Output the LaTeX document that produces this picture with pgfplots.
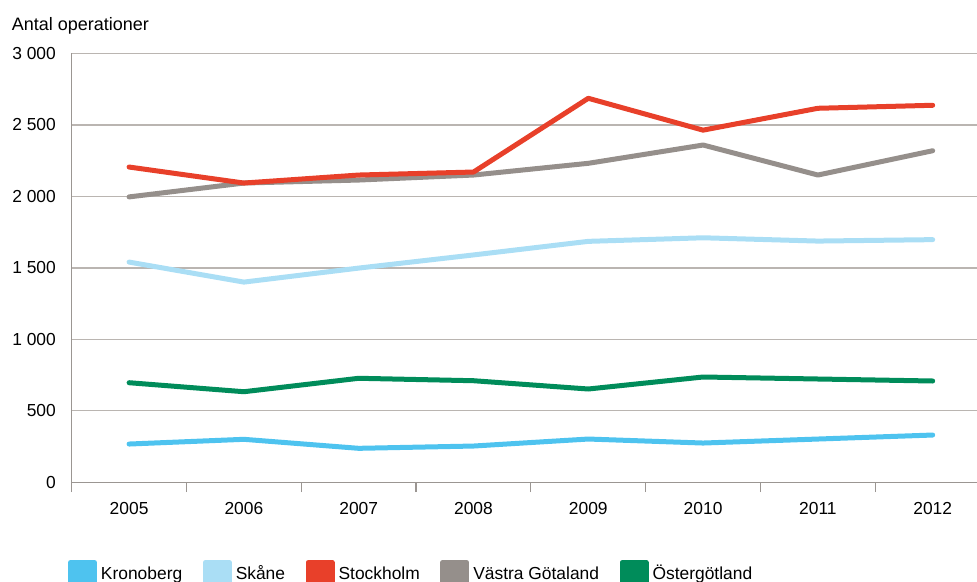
\documentclass[border=0pt]{standalone}
\usepackage{pgfplots}
\pgfplotsset{compat=1.18}
\usepackage{fontspec}
\setmainfont{Liberation Sans}
\definecolor{kron}{HTML}{4EC3EF}
\definecolor{skane}{HTML}{AADEF5}
\definecolor{sthlm}{HTML}{E8402A}
\definecolor{vgot}{HTML}{958F8B}
\definecolor{ostg}{HTML}{008C5A}
\definecolor{axisgray}{HTML}{9B9692}
\definecolor{gridgray}{HTML}{BAB5B1}
\begin{document}
\fontsize{17.4}{20}\selectfont
\begin{tikzpicture}
\begin{axis}[
  scale only axis, width=905.3pt, height=428.8pt,
  at={(0,0)}, anchor=south west,
  xmin=-0.5, xmax=7.386, ymin=0, ymax=3000,
  axis x line=bottom, axis y line=left,
  axis line style={draw=axisgray, line width=1.3pt, -},
  xtick={0,...,7},
  xticklabels={2005,2006,2007,2008,2009,2010,2011,2012},
  minor xtick={-0.5,0.5,...,6.5},
  ytick={0,500,...,3000},
  yticklabels={0,500,1 000,1 500,2 000,2 500,3 000},
  major tick length=0pt, minor tick length=10pt, tick align=outside,
  minor tick style={draw=axisgray, line width=1.2pt},
  ymajorgrids, major grid style={draw=gridgray, line width=1.4pt},
  xticklabel style={inner sep=0pt, anchor=north, yshift=-19.6pt},
  yticklabel style={inner sep=0pt, anchor=east, xshift=-15.7pt},
  tick label style={font=\fontsize{17.4}{20}\selectfont},
  /pgf/number format/assume math mode=true,
  clip=false,
  legend columns=5,
  legend style={at={(rel axis cs:0,0)}, anchor=north west, xshift=-3.7pt, yshift=-77.8pt,
    draw=none, fill=none, inner sep=0pt, outer sep=0pt,
    nodes={inner sep=0pt, anchor=base west},
    /tikz/every odd column/.style={column sep=4pt},
    /tikz/every even column/.style={column sep=20.5pt},
    font=\fontsize{17.4}{20}\selectfont},
  legend image code/.code={\fill[#1] (0pt,-7.3pt) rectangle (24pt,16.7pt);},
  every axis plot/.append style={line width=5pt, line cap=round, line join=round},
]
\addlegendimage{color=kron}\addlegendentry{Kronoberg}
\addlegendimage{color=skane}\addlegendentry{Skåne}
\addlegendimage{color=sthlm}\addlegendentry{Stockholm}
\addlegendimage{color=vgot}\addlegendentry{Västra Götaland}
\addlegendimage{color=ostg}\addlegendentry{Östergötland}

% Kronoberg
\addplot[color=kron, forget plot] coordinates {
(0,267) (1,300) (2,237) (3,253) (4,302) (5,274) (6,302) (7,330)};
% Skane
\addplot[color=skane, forget plot] coordinates {
(0,1540) (1,1400) (2,1498) (3,1590) (4,1685) (5,1710) (6,1687) (7,1697)};
% Ostergotland
\addplot[color=ostg, forget plot] coordinates {
(0,696) (1,633) (2,727) (3,710) (4,652) (5,736) (6,722) (7,708)};
% Vastra Gotaland
\addplot[color=vgot, forget plot] coordinates {
(0,1996) (1,2093) (2,2114) (3,2149) (4,2231) (5,2359) (6,2149) (7,2319)};
% Stockholm
\addplot[color=sthlm, forget plot] coordinates {
(0,2205) (1,2093) (2,2149) (3,2170) (4,2686) (5,2463) (6,2616) (7,2637)};

\node[anchor=base west, inner sep=0pt, font=\fontsize{18}{20}\selectfont,
  xshift=-60pt, yshift=22.5pt] at (rel axis cs:0,1) {Antal operationer};
\end{axis}
\pgfresetboundingbox
\path[use as bounding box] (-71.7pt,-98.8pt) rectangle (905.3pt,482.2pt);
\end{tikzpicture}
\end{document}
